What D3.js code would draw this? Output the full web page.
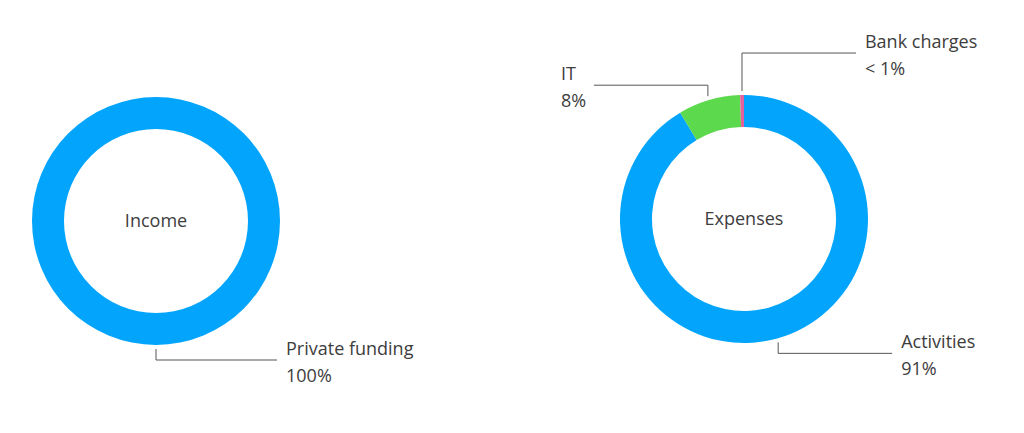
<!DOCTYPE html>
<html>
<head>
<meta charset="utf-8">
<script src="https://cdn.jsdelivr.net/npm/d3@7"></script>
<style>
  body { margin: 0; background: #fff; }
  text { font-family: "Open Sans", "Noto Sans", sans-serif; fill: #3d3d3d; }
</style>
</head>
<body>
<div id="chart"></div>
<script>
// income donut
var incomeCategories = ["Private funding"];
var incomeValues = [100];
var incomeLabels = ["100%"];

// expenses donut
var expenseCategories = ["Activities", "IT", "Bank charges"];
var expenseValues = [91.4, 8.1, 0.5];
var expenseLabels = ["91%", "8%", "< 1%"];

var colors = ["#03a5fc", "#5cd94c", "#e5609d"];

var width = 1024, height = 433;
var svg = d3.select("#chart").append("svg")
    .attr("width", width).attr("height", height);

var outerR = 124, innerR = 92;
var arc = d3.arc().innerRadius(innerR).outerRadius(outerR);
var pie = d3.pie().sort(null).value(function (d) { return d.value; });

function donut(cx, cy, title, cats, vals, labels) {
    var data = cats.map(function (c, i) {
        return { name: c, value: vals[i], label: labels[i], color: colors[i] };
    });
    var g = svg.append("g").attr("transform", "translate(" + cx + "," + cy + ")");

    g.selectAll("path.slice")
        .data(pie(data))
        .enter().append("path")
        .attr("class", "slice")
        .attr("d", arc)
        .attr("fill", function (d) { return d.data.color; });

    g.append("text")
        .attr("text-anchor", "middle")
        .attr("dy", "0.35em")
        .style("font-size", "18px")
        .text(title);

    // leader lines + labels
    pie(data).forEach(function (d) {
        var mid = (d.startAngle + d.endAngle) / 2;
        var r0 = outerR + 4;
        var x0 = r0 * Math.sin(mid), y0 = -r0 * Math.cos(mid);
        var top = Math.cos(mid) > 0;
        var right = Math.sin(mid) > -0.05;
        // tiny slices get a taller leader so labels stay clear
        var lift = (d.endAngle - d.startAngle) < 0.1 ? 38 : 11;
        var y1 = top ? y0 - lift : y0 + lift;
        var len = cats.length === 1 ? 121 : 114;
        var x1 = right ? x0 + len : x0 - len;

        g.append("path")
            .attr("d", "M" + x0 + "," + y0 + "V" + y1 + "H" + x1)
            .attr("fill", "none")
            .attr("stroke", "#555")
            .attr("stroke-width", 1);

        var tx = right ? x1 + 9 : x1 - 33;
        var t = g.append("text").style("font-size", "18px");
        t.append("tspan").attr("x", tx).attr("y", y1 - 5).text(d.data.name);
        t.append("tspan").attr("x", tx).attr("y", y1 + 22).text(d.data.label);
    });
}

donut(156, 221, "Income", incomeCategories, incomeValues, incomeLabels);
donut(744, 219, "Expenses", expenseCategories, expenseValues, expenseLabels);
</script>
</body>
</html>
